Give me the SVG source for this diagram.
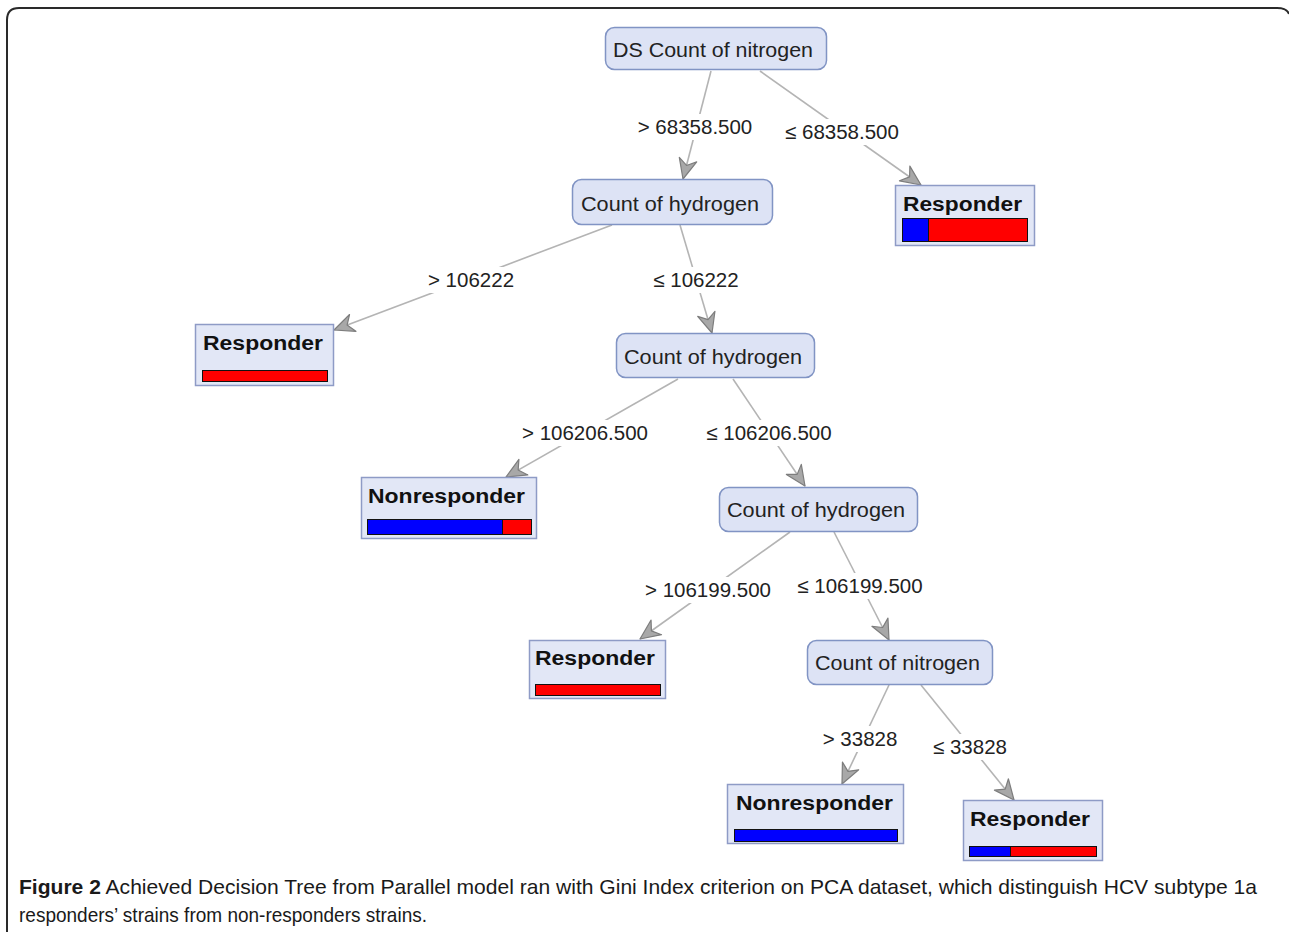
<svg xmlns="http://www.w3.org/2000/svg" width="1289" height="932" viewBox="0 0 1289 932">
<style>
.frame{fill:none;stroke:#2a2a2a;stroke-width:2}
.node rect.box{fill:#dde3f5;stroke:#8194c4;stroke-width:1.5}
.leaf rect.box{fill:#e2e7f6;stroke:#8e9bc6;stroke-width:1.5}
.nt{font-family:"Liberation Sans",Arial,sans-serif;font-size:20px;fill:#222}
.lt{font-family:"Liberation Sans",Arial,sans-serif;font-size:20px;font-weight:bold;fill:#111}
.el{font-family:"Liberation Sans",Arial,sans-serif;font-size:20.5px;fill:#222;text-anchor:middle}
.edge{stroke:#b4b4b4;stroke-width:1.6;fill:none;marker-end:url(#arr)}
.lbg{fill:#fff}
.bar{stroke:#111;stroke-width:1}
.red{fill:#ff0000}
.blue{fill:#0000ff}
.cap{font-family:"Liberation Sans",Arial,sans-serif;font-size:21px;fill:#1a1a1a}
</style>
<defs>
<marker id="arr" markerUnits="userSpaceOnUse" markerWidth="24" markerHeight="20" viewBox="0 0 24 20" refX="22" refY="10" orient="auto">
<path d="M22,10 L2,1 L8,10 L2,19 Z" fill="#a8a8a8" stroke="#7d7d7d" stroke-width="1.2" stroke-linejoin="round"/>
</marker>
</defs>
<rect width="1289" height="932" fill="#fff"/>
<path class="frame" d="M7,940 L7,20 Q7,8 19,8 L1277,8 Q1287,8 1289,14"/>

<g id="connectors">
<line class="edge" x1="711" y1="71" x2="683" y2="179"/>
<line class="edge" x1="760" y1="71" x2="921" y2="185"/>
<line class="edge" x1="612" y1="225" x2="334" y2="330"/>
<line class="edge" x1="680" y1="225" x2="712" y2="333"/>
<line class="edge" x1="678" y1="379" x2="506" y2="477"/>
<line class="edge" x1="733" y1="379" x2="805" y2="486"/>
<line class="edge" x1="790" y1="532" x2="640" y2="639"/>
<line class="edge" x1="834" y1="532" x2="889" y2="640"/>
<line class="edge" x1="889" y1="685" x2="842" y2="784"/>
<line class="edge" x1="921" y1="685" x2="1014" y2="800"/>
<g id="edge-labels">
<rect class="lbg" x="634" y="114" width="122" height="26"/><text class="el" x="695" y="134">&gt; 68358.500</text>
<rect class="lbg" x="780" y="119" width="124" height="26"/><text class="el" x="842" y="139">≤ 68358.500</text>
<rect class="lbg" x="425" y="267" width="92" height="26"/><text class="el" x="471" y="287">&gt; 106222</text>
<rect class="lbg" x="648" y="267" width="96" height="26"/><text class="el" x="696" y="287">≤ 106222</text>
<rect class="lbg" x="519" y="420" width="133" height="26"/><text class="el" x="585" y="440">&gt; 106206.500</text>
<rect class="lbg" x="701" y="420" width="136" height="26"/><text class="el" x="769" y="440">≤ 106206.500</text>
<rect class="lbg" x="642" y="577" width="133" height="26"/><text class="el" x="708" y="597">&gt; 106199.500</text>
<rect class="lbg" x="792" y="573" width="136" height="26"/><text class="el" x="860" y="593">≤ 106199.500</text>
<rect class="lbg" x="820" y="726" width="81" height="26"/><text class="el" x="860" y="746">&gt; 33828</text>
<rect class="lbg" x="929" y="734" width="82" height="26"/><text class="el" x="970" y="754">≤ 33828</text>
</g>
</g>

<g id="n-root" class="node"><rect class="box" x="605.5" y="27.5" width="221" height="42" rx="9"/><text class="nt" x="613" y="57" textLength="200" lengthAdjust="spacingAndGlyphs">DS Count of nitrogen</text></g>
<g id="n-h1" class="node"><rect class="box" x="572.5" y="179.5" width="200" height="45" rx="9"/><text class="nt" x="581" y="211" textLength="178" lengthAdjust="spacingAndGlyphs">Count of hydrogen</text></g>
<g id="n-h2" class="node"><rect class="box" x="616.5" y="333.5" width="198" height="44" rx="9"/><text class="nt" x="624" y="364" textLength="178" lengthAdjust="spacingAndGlyphs">Count of hydrogen</text></g>
<g id="n-h3" class="node"><rect class="box" x="719.5" y="487.5" width="198" height="44" rx="9"/><text class="nt" x="727" y="517" textLength="178" lengthAdjust="spacingAndGlyphs">Count of hydrogen</text></g>
<g id="n-n2" class="node"><rect class="box" x="807.5" y="640.5" width="185" height="44" rx="9"/><text class="nt" x="815" y="670" textLength="165" lengthAdjust="spacingAndGlyphs">Count of nitrogen</text></g>

<g id="leaf-r1" class="leaf"><rect class="box" x="895.5" y="185.5" width="139" height="60"/><text class="lt" x="903" y="211" textLength="119" lengthAdjust="spacingAndGlyphs">Responder</text>
<rect class="bar blue" x="902.5" y="218.5" width="26" height="23"/><rect class="bar red" x="928.5" y="218.5" width="99" height="23"/></g>
<g id="leaf-r2" class="leaf"><rect class="box" x="195.5" y="324.5" width="138" height="61"/><text class="lt" x="203" y="350" textLength="120" lengthAdjust="spacingAndGlyphs">Responder</text>
<rect class="bar red" x="202.5" y="370.5" width="125" height="11"/></g>
<g id="leaf-n1" class="leaf"><rect class="box" x="361.5" y="477.5" width="175" height="61"/><text class="lt" x="368" y="503" textLength="157" lengthAdjust="spacingAndGlyphs">Nonresponder</text>
<rect class="bar blue" x="367.5" y="519.5" width="135" height="15"/><rect class="bar red" x="502.5" y="519.5" width="29" height="15"/></g>
<g id="leaf-r3" class="leaf"><rect class="box" x="529.5" y="640.5" width="136" height="58"/><text class="lt" x="535" y="665" textLength="120" lengthAdjust="spacingAndGlyphs">Responder</text>
<rect class="bar red" x="535.5" y="684.5" width="125" height="11"/></g>
<g id="leaf-n2" class="leaf"><rect class="box" x="727.5" y="784.5" width="176" height="59"/><text class="lt" x="736" y="810" textLength="157" lengthAdjust="spacingAndGlyphs">Nonresponder</text>
<rect class="bar blue" x="734.5" y="829.5" width="163" height="12"/></g>
<g id="leaf-r4" class="leaf"><rect class="box" x="963.5" y="800.5" width="139" height="60"/><text class="lt" x="970" y="826" textLength="120" lengthAdjust="spacingAndGlyphs">Responder</text>
<rect class="bar blue" x="969.5" y="846.5" width="41" height="10"/><rect class="bar red" x="1010.5" y="846.5" width="86" height="10"/></g>

<g id="caption">
<text class="cap" x="19" y="894" textLength="1238" lengthAdjust="spacingAndGlyphs"><tspan font-weight="bold">Figure 2</tspan> Achieved Decision Tree from Parallel model ran with Gini Index criterion on PCA dataset, which distinguish HCV subtype 1a</text>
<text class="cap" x="19" y="922" textLength="408" lengthAdjust="spacingAndGlyphs">responders’ strains from non-responders strains.</text>
</g>
</svg>
